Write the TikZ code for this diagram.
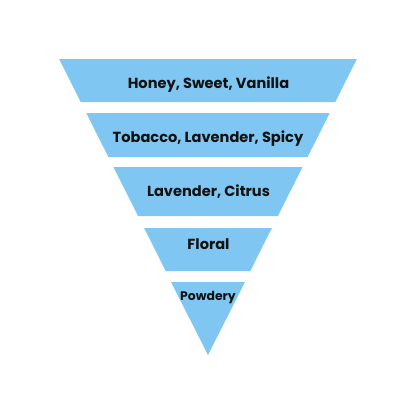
\documentclass[tikz,border=0pt]{standalone}
\usepackage{fontspec}
\setmainfont{Poppins}
\usetikzlibrary{positioning}
\definecolor{sky}{HTML}{7FC7F2}
\definecolor{ink}{HTML}{111111}
\tikzset{
  layer/.style={fill=sky, draw=none},
  note/.style={font=\bfseries\fontsize{14.6}{16}\selectfont, text=ink, inner sep=0pt, anchor=base},
  small/.style={font=\bfseries\fontsize{12.4}{14}\selectfont, text=ink, inner sep=0pt, anchor=base},
}

\begin{document}
\begin{tikzpicture}[x=1pt, y=-1pt]
\useasboundingbox (0,0) rectangle (416,416);
% inverted pyramid, apex at (208,355)
\foreach \top/\bot in {59/102, 113/157, 167/216, 228/271}
  \fill[layer] ({208-0.503*(355-\top)},\top) -- ({208+0.503*(355-\top)},\top)
    -- ({208+0.503*(355-\bot)},\bot) -- ({208-0.503*(355-\bot)},\bot) -- cycle;
\fill[layer] (171,282) -- (245,282) -- (208,355) -- cycle;
% labels
\node[note] (honey) at (208.5,88.5) {Honey, Sweet, Vanilla};
\node[note] (tobacco) at (208,142.7) {Tobacco, Lavender, Spicy};
\node[note] (lavender) at (208.5,196) {Lavender, Citrus};
\node[note] (floral) at (208.5,249.5) {Floral};
\node[small] (powdery) at (208,300.7) {Powdery};
\end{tikzpicture}
\end{document}
